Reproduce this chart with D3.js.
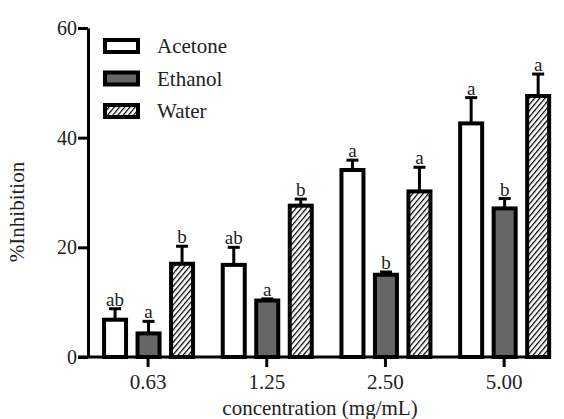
<!DOCTYPE html>
<html>
<head>
<meta charset="utf-8">
<script src="https://cdn.jsdelivr.net/npm/d3@7"></script>
<style>
body { margin: 0; background: #fff; }
</style>
</head>
<body>
<div id="chart"></div>
<script>
var concentrations = ["0.63", "1.25", "2.50", "5.00"];
var series = ["Acetone", "Ethanol", "Water"];
var acetone = [6.8, 16.8, 34.1, 42.6];
var ethanol = [4.3, 10.3, 15.0, 27.1];
var water = [17.0, 27.6, 30.2, 47.6];
var acetoneErr = [2.0, 3.2, 1.8, 4.7];
var ethanolErr = [2.2, 0.3, 0.5, 1.8];
var waterErr = [3.2, 1.2, 4.4, 4.0];
var acetoneLetters = ["ab", "ab", "a", "a"];
var ethanolLetters = ["a", "a", "b", "b"];
var waterLetters = ["b", "b", "a", "a"];
var yTicks = [0, 20, 40, 60];

var serif = "Liberation Serif";
var width = 564, height = 419;
var svg = d3.select("#chart").append("svg")
    .attr("width", width)
    .attr("height", height)
    .attr("font-family", serif);

var defs = svg.append("defs");
var hatch = defs.append("pattern")
    .attr("id", "hatch")
    .attr("patternUnits", "userSpaceOnUse")
    .attr("width", 4)
    .attr("height", 4)
    .attr("patternTransform", "rotate(40)");
hatch.append("rect").attr("width", 4).attr("height", 4).attr("fill", "#fff");
hatch.append("line")
    .attr("x1", 0).attr("y1", 0).attr("x2", 0).attr("y2", 4)
    .attr("stroke", "#000").attr("stroke-width", 2.5);

var fills = {"Acetone": "#fff", "Ethanol": "#666", "Water": "url(#hatch)"};

var y = d3.scaleLinear().domain([0, 60]).range([357, 28]);
var x = d3.scaleBand().domain(concentrations).range([88.7, 563.5]).padding(0);
var xInner = d3.scalePoint().domain(series).range([-33, 34]);
var barW = 22;

// data rows
var rows = [];
concentrations.forEach(function(c, i) {
    rows.push({c: c, s: "Acetone", v: acetone[i], e: acetoneErr[i], l: acetoneLetters[i]});
    rows.push({c: c, s: "Ethanol", v: ethanol[i], e: ethanolErr[i], l: ethanolLetters[i]});
    rows.push({c: c, s: "Water", v: water[i], e: waterErr[i], l: waterLetters[i]});
});
function cx(d) { return x(d.c) + x.bandwidth() / 2 + xInner(d.s); }

// error bars (upper only)
var err = svg.append("g").selectAll("g").data(rows).enter().append("g");
err.append("line")
    .attr("x1", cx).attr("x2", cx)
    .attr("y1", function(d) { return y(d.v); })
    .attr("y2", function(d) { return y(d.v + d.e); })
    .attr("stroke", "#000").attr("stroke-width", 3);
err.append("line")
    .attr("x1", function(d) { return cx(d) - 6; })
    .attr("x2", function(d) { return cx(d) + 6; })
    .attr("y1", function(d) { return y(d.v + d.e); })
    .attr("y2", function(d) { return y(d.v + d.e); })
    .attr("stroke", "#000").attr("stroke-width", 3);

// bars
svg.append("g").selectAll("rect").data(rows).enter().append("rect")
    .attr("x", function(d) { return cx(d) - barW / 2; })
    .attr("width", barW)
    .attr("y", function(d) { return y(d.v); })
    .attr("height", function(d) { return y(0) - y(d.v); })
    .attr("fill", function(d) { return fills[d.s]; })
    .attr("stroke", "#000")
    .attr("stroke-width", 4);

// letters
svg.append("g").selectAll("text").data(rows).enter().append("text")
    .attr("x", cx)
    .attr("y", function(d) { return y(d.v + d.e) - 3; })
    .attr("text-anchor", "middle")
    .attr("font-family", serif)
    .attr("font-size", 19)
    .attr("fill", "#222")
    .text(function(d) { return d.l; });

// y axis
var yAxis = svg.append("g")
    .attr("transform", "translate(88,0)")
    .call(d3.axisLeft(y).tickValues(yTicks).tickSize(10).tickSizeOuter(0).tickPadding(1));
yAxis.attr("font-family", serif);
yAxis.select(".domain").attr("stroke-width", 3);
yAxis.selectAll(".tick line").attr("stroke-width", 3);
yAxis.selectAll(".tick text").attr("font-size", 20).attr("fill", "#222");

// x axis
var xAxis = svg.append("g")
    .attr("transform", "translate(0,357)")
    .call(d3.axisBottom(x).tickSize(10).tickSizeOuter(0).tickPadding(7));
xAxis.attr("font-family", serif);
xAxis.select(".domain").remove();
xAxis.append("line").attr("x1", 78).attr("x2", 551).attr("y1", 0).attr("y2", 0)
    .attr("stroke", "#000").attr("stroke-width", 3);
xAxis.selectAll(".tick line").attr("stroke-width", 3);
xAxis.selectAll(".tick text").attr("font-size", 21).attr("fill", "#222");

// axis titles
svg.append("text")
    .attr("x", 320).attr("y", 415)
    .attr("text-anchor", "middle")
    .attr("font-family", serif)
    .attr("font-size", 21)
    .attr("fill", "#222")
    .text("concentration (mg/mL)");
svg.append("text")
    .attr("transform", "translate(24,212) rotate(-90)")
    .attr("text-anchor", "middle")
    .attr("font-family", serif)
    .attr("font-size", 21)
    .attr("fill", "#222")
    .text("%Inhibition");

// legend
var legend = svg.append("g").selectAll("g").data(series).enter().append("g")
    .attr("transform", function(d, i) { return "translate(105," + (46 + i * 32.5) + ")"; });
legend.append("rect")
    .attr("x", 0).attr("y", -6).attr("width", 33).attr("height", 12)
    .attr("fill", function(d) { return fills[d]; })
    .attr("stroke", "#000").attr("stroke-width", 4);
legend.append("text")
    .attr("x", 52).attr("y", 7)
    .attr("font-family", serif)
    .attr("font-size", 21)
    .attr("fill", "#222")
    .text(function(d) { return d; });
</script>
</body>
</html>
